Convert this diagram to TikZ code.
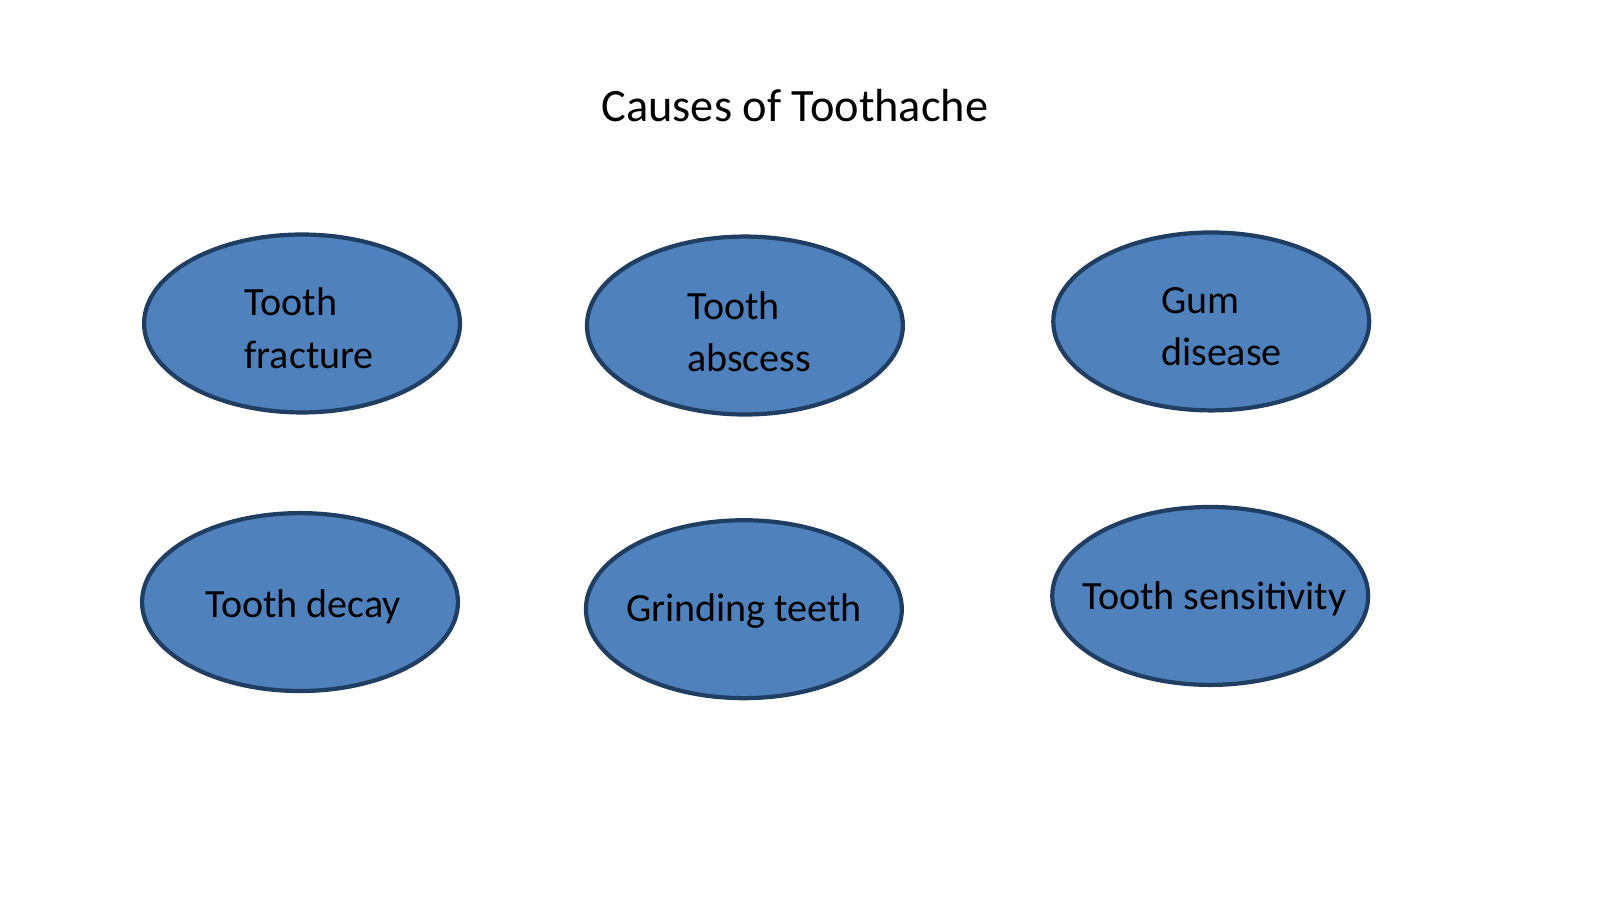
\documentclass[tikz,border=0pt]{standalone}
\usepackage{fontspec}
\setmainfont{Carlito}
\usetikzlibrary{shapes.geometric}
\definecolor{causefill}{HTML}{4F81BD}
\definecolor{causeline}{HTML}{203D62}

\begin{document}
\begin{tikzpicture}[x=0.010204cm,y=-0.010204cm,
    cause/.style={ellipse,fill=causefill,draw=causeline,line width=1.2pt,
      minimum width=3.16cm,minimum height=1.78cm,inner sep=0},
    causetext/.style={font=\fontsize{11.4pt}{15pt}\selectfont,align=left}]

\useasboundingbox (0,0) rectangle (1568,882);

% title
\node (title) at (779,103) {\fontsize{13.2pt}{15pt}\selectfont Causes of Toothache};

% top row
\node (fracture) at (296,317) [cause] {};
\node (abscess) at (730,319) [cause] {};
\node (gum) at (1187,315) [cause] {};

% bottom row
\node (decay) at (294,590) [cause] {};
\node (grinding) at (729,597) [cause] {};
\node (sensitivity) at (1186,584) [cause] {};

% labels
\node (fractureText) at (303,322) [causetext] {Tooth\\fracture};
\node (abscessText) at (734,325) [causetext] {Tooth\\abscess};
\node (gumText) at (1197,320) [causetext] {Gum\\disease};
\node (decayText) at (297,595) [causetext] {Tooth decay};
\node (grindingText) at (729,599) [causetext] {Grinding teeth};
\node (sensitivityText) at (1190,587) [causetext] {Tooth sensitivity};

\end{tikzpicture}
\end{document}
